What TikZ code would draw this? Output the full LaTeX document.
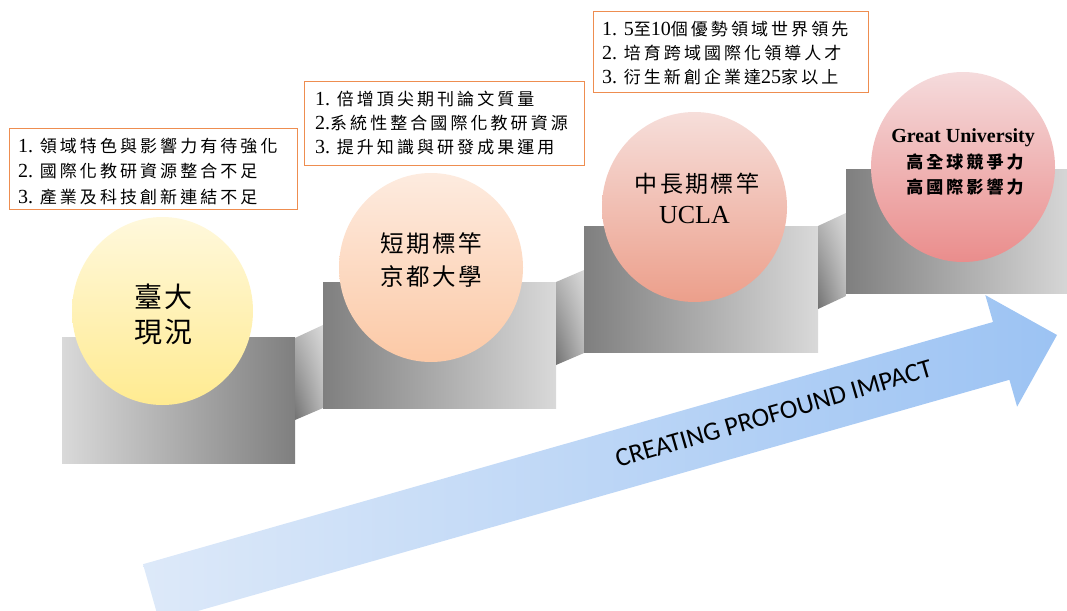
\documentclass[tikz,border=0pt]{standalone}
\usepackage{fontspec}
\setmainfont{Liberation Serif}
\newfontfamily\cjkbox[LetterSpace=18]{Noto Sans CJK TC}
\newfontfamily\cjkcirc[LetterSpace=10]{Noto Sans CJK TC}
\newfontfamily\cjkbold[LetterSpace=18]{Noto Sans CJK TC}
\newfontfamily\carl{Carlito}
\newcommand\zh[1]{{\cjkbox\fontsize{17}{24}\selectfont #1}}
\definecolor{gdark}{HTML}{7F7F7F}
\definecolor{glight}{HTML}{D9D9D9}
\definecolor{orng}{HTML}{EE8D50}
\definecolor{cAt}{HTML}{FFF8DC}\definecolor{cAb}{HTML}{FFEB91}
\definecolor{cBt}{HTML}{FDEBDF}\definecolor{cBb}{HTML}{FCC9A6}
\definecolor{cCt}{HTML}{F6DEDA}\definecolor{cCb}{HTML}{EC9F8B}
\definecolor{cDt}{HTML}{F5DBDC}\definecolor{cDb}{HTML}{EA8D8C}
\definecolor{arL}{HTML}{DDE9F9}\definecolor{arR}{HTML}{9CC3F3}
\usetikzlibrary{shapes.geometric,shadings}
\tikzset{
  tbox/.style={draw=orng, line width=1.2pt, fill=white, inner sep=0, anchor=north west},
  tline/.style={anchor=base west, inner sep=0, font=\fontsize{20}{24}\selectfont},
  ctext/.style={inner sep=0, anchor=center},
  disc/.style={ellipse, draw=none, inner sep=0},
  plinth/.style={left color=gdark, right color=glight},
  plinthrev/.style={left color=glight, right color=gdark},
  riser/.style={upper left=gray!55, upper right=glight, lower left=gdark!90!black, lower right=gray!60},
}
\begin{document}
\begin{tikzpicture}[x=1pt,y=-1pt]
\useasboundingbox (0,0) rectangle (1067,610);
\clip (0,0) rectangle (1067,610);
% steps
\shade[plinthrev] (62,337) rectangle (295,463);
\shade[riser] (295,338) -- (323,325) -- (323,408) -- (295,420) -- cycle;
\shade[plinth] (323,282) rectangle (556,408);
\shade[riser] (556,282) -- (584,270) -- (584,353) -- (556,365) -- cycle;
\shade[plinth] (584,226) rectangle (818,352);
\shade[riser] (818,226) -- (846,213) -- (846,296) -- (818,309) -- cycle;
\shade[plinth] (846,169) rectangle (1075,293);
% arrow
\shade[left color=arL, right color=arR]
  (143,564.2) -- (993.0,322.0) -- (985.3,295.1) -- (1057,335) -- (1017.1,406.7)
  -- (1009.4,379.8) -- (159.4,621.9) -- cycle;
\node[inner sep=0, anchor=base, rotate=16.2, font=\carl\fontsize{26.5}{30}\selectfont] (impact) at (776,422) {CREATING PROFOUND IMPACT};
% discs
\node[disc, minimum width=181, minimum height=188, top color=cAt, bottom color=cAb] (d1) at (162.5,311) {};
\node[disc, minimum width=184, minimum height=189, top color=cBt, bottom color=cBb] (d2) at (431,267.5) {};
\node[disc, minimum width=185, minimum height=190, top color=cCt, bottom color=cCb] (d3) at (694.5,207) {};
\node[disc, minimum width=184, minimum height=190, top color=cDt, bottom color=cDb] (d4) at (963,167) {};
% disc texts
\node[ctext, font=\cjkcirc\fontsize{28}{34}\selectfont] (d1a) at (163.5,297) {臺大};
\node[ctext, font=\cjkcirc\fontsize{28}{34}\selectfont] (d1b) at (163.5,332.5) {現況};
\node[ctext, font=\cjkcirc\fontsize{23.5}{30}\selectfont] (d2a) at (431,244) {短期標竿};
\node[ctext, font=\cjkcirc\fontsize{23.5}{30}\selectfont] (d2b) at (431,276) {京都大學};
\node[ctext, font=\cjkcirc\fontsize{23}{30}\selectfont] (d3a) at (697,184) {中長期標竿};
\node[inner sep=0, anchor=base, font=\fontsize{26}{30}\selectfont] (d3b) at (694.5,223) {UCLA};
\node[inner sep=0, anchor=base, font=\bfseries\fontsize{20}{24}\selectfont] (d4a) at (963,142.7) {Great University};
\node[ctext, font=\cjkbold\bfseries\fontsize{17}{24}\selectfont] (d4b) at (965,162.3) {高全球競爭力};
\node[ctext, font=\cjkbold\bfseries\fontsize{17}{24}\selectfont] (d4c) at (965,187.3) {高國際影響力};
% text boxes
\node[tbox, minimum width=288, minimum height=81] (bA) at (9,128) {};
\node[tline] (a1) at (18,152.3) {1. \zh{領域特色與影響力有待強化}};
\node[tline] (a2) at (18,177.8) {2. \zh{國際化教研資源整合不足}};
\node[tline] (a3) at (18,203.3) {3. \zh{產業及科技創新連結不足}};
\node[tbox, minimum width=280, minimum height=84] (bB) at (304,81) {};
\node[tline] (b1) at (315,105) {1. \zh{倍增頂尖期刊論文質量}};
\node[tline] (b2) at (315,129) {2.\zh{系統性整合國際化教研資源}};
\node[tline] (b3) at (315,153) {3. \zh{提升知識與研發成果運用}};
\node[tbox, minimum width=275, minimum height=81] (bC) at (593,11) {};
\node[tline] (c1) at (602,36) {1. 5\zh{至}10\zh{個優勢領域世界領先}};
\node[tline] (c2) at (602,59.5) {2. \zh{培育跨域國際化領導人才}};
\node[tline] (c3) at (602,83.3) {3. \zh{衍生新創企業達}25\zh{家以上}};
\end{tikzpicture}
\end{document}
